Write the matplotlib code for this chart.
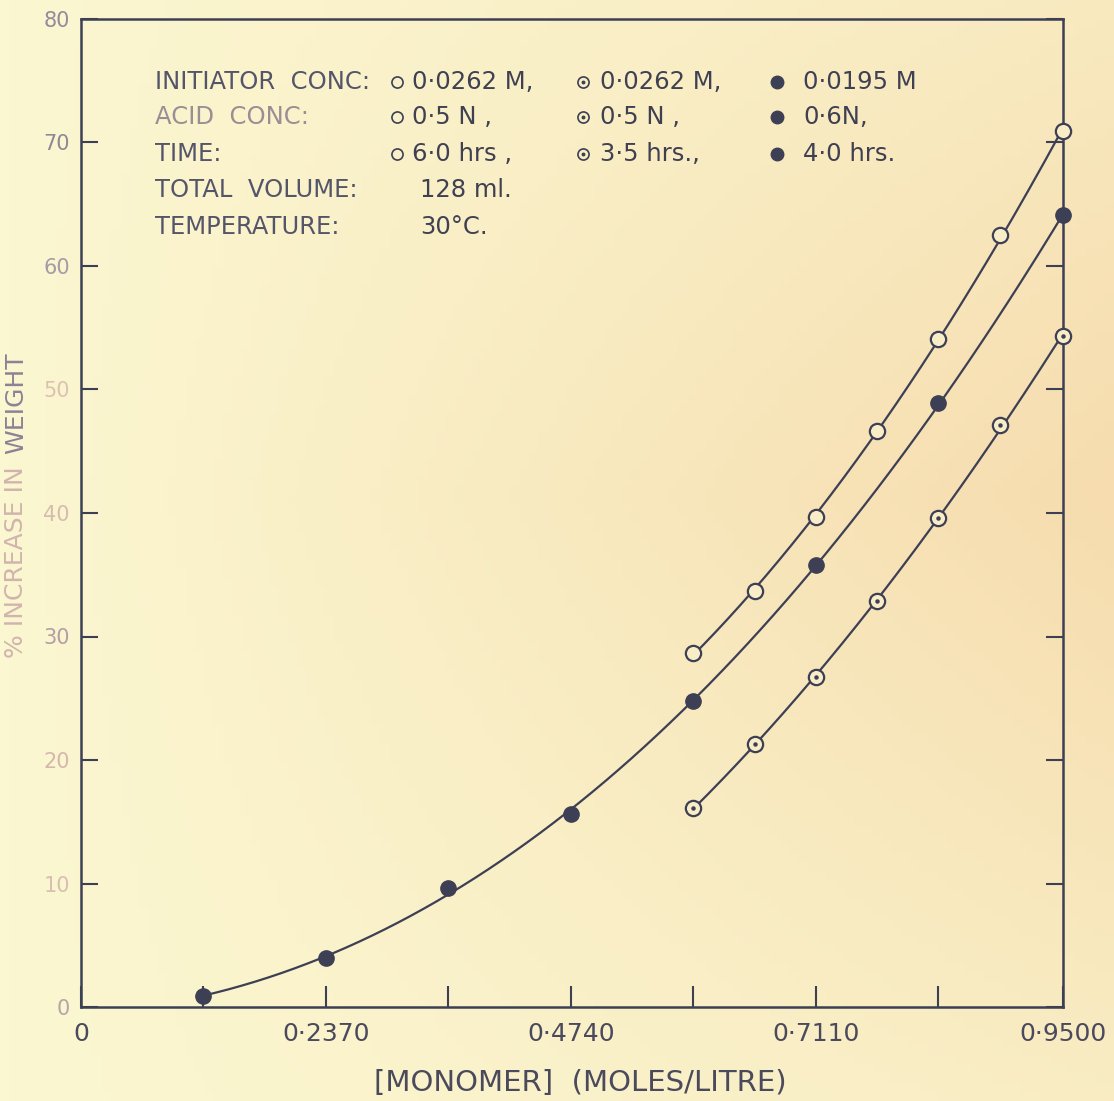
import numpy as np
import matplotlib.pyplot as plt

# monomer concentration (moles/litre) and % increase in weight
monomer_full = [0.1185, 0.2370, 0.3555, 0.4740, 0.5925, 0.7110, 0.8295, 0.9500]
weight_filled = [0.9, 4.0, 9.6, 15.6, 24.8, 35.8, 48.9, 64.1]

monomer_part = [0.5925, 0.6518, 0.7110, 0.7703, 0.8295, 0.8888, 0.9500]
weight_open = [28.7, 33.7, 39.7, 46.6, 54.1, 62.5, 70.9]
weight_dotted = [16.1, 21.3, 26.7, 32.9, 39.6, 47.1, 54.3]

x_major = [0, 0.2370, 0.4740, 0.7110, 0.9500]
x_major_labels = ['0', '0·2370', '0·4740', '0·7110', '0·9500']
x_minor = [0.1185, 0.3555, 0.5925, 0.8295]
y_ticks = [0, 10, 20, 30, 40, 50, 60, 70, 80]

ink = '#3d3f55'
paper = '#f8edc6'
W, H = 1114, 1101


def fx(px):
    return px / W


def fy(py):
    return 1 - py / H


fig = plt.figure(figsize=(W / 100, H / 100), dpi=100)

# paper background with a slight warm tint towards the right
bg = fig.add_axes([0, 0, 1, 1], zorder=0)
bg.axis('off')
yy, xx = np.mgrid[0:1:120j, 0:1:120j]
t = np.clip(xx * (1 - np.abs(yy - 0.45) * 1.1), 0, 1)[..., None]
c0 = np.array([251, 247, 209]) / 255
c1 = np.array([246, 220, 174]) / 255
bg.imshow(c0 * (1 - t) + c1 * t, extent=[0, 1, 0, 1], aspect='auto', origin='upper')
bg.set_xlim(0, 1)
bg.set_ylim(0, 1)

ax = fig.add_axes([fx(81), fy(1007), fx(1063 - 81), (1007 - 19) / H], zorder=1)
ax.patch.set_alpha(0)
ax.set_xlim(0, 0.95)
ax.set_ylim(0, 80)
for s in ax.spines.values():
    s.set_color(ink)
    s.set_linewidth(1.8)


def smooth(x, y, deg):
    coeffs = np.polyfit(x, y, deg)
    xs = np.linspace(x[0], x[-1], 200)
    ax.plot(xs, np.polyval(coeffs, xs), color=ink, lw=1.6, zorder=2, clip_on=False)


smooth(monomer_full, weight_filled, 3)
smooth(monomer_part, weight_open, 2)
smooth(monomer_part, weight_dotted, 2)

ax.plot(monomer_full, weight_filled, 'o', ms=11, mfc=ink, mec=ink, zorder=3, clip_on=False)
ax.plot(monomer_part, weight_open, 'o', ms=11, mfc=paper, mec=ink, mew=1.6, zorder=3, clip_on=False)
ax.plot(monomer_part, weight_dotted, 'o', ms=11, mfc=paper, mec=ink, mew=1.6, zorder=3, clip_on=False)
ax.plot(monomer_part, weight_dotted, 'o', ms=2.2, color=ink, zorder=4, clip_on=False)

# ticks
ax.set_xticks(x_major)
ax.set_xticklabels(x_major_labels)
ax.set_xticks(x_minor, minor=True)
ax.tick_params(axis='x', which='both', direction='in', length=15, width=1.5,
               colors=ink, labelsize=18, pad=11)
ax.set_yticks(y_ticks)
ax.set_yticklabels([str(v) for v in y_ticks])
ax.tick_params(axis='y', direction='in', length=12, width=1.5, colors=ink,
               right=True, labelsize=15, pad=8)
y_label_colors = ['#b8a4a8', '#d9bfb2', '#d4b8ae', '#b39ea6', '#d6bcb0',
                  '#dcc2b4', '#a89aa6', '#8f8698', '#948a9c']
for lab, c in zip(ax.get_yticklabels(), y_label_colors):
    lab.set_color(c)
for lab in ax.get_xticklabels():
    lab.set_color('#4a4a5c')

# y axis title, the first part faded on the original
fig.text(fx(16), fy(658), '% INCREASE IN', rotation=90, ha='center', va='bottom',
         fontsize=18, color='#d2b4ae')
fig.text(fx(16), fy(352), 'WEIGHT', rotation=90, ha='center', va='top',
         fontsize=18, color='#8c8296')
fig.text(fx(580), fy(1083), '[MONOMER]  (MOLES/LITRE)', ha='center', va='center',
         fontsize=21, color='#4a4a5c')

# annotation block
rows = [82, 117, 154, 190, 227]
labels = ['INITIATOR  CONC:', 'ACID  CONC:', 'TIME:', 'TOTAL  VOLUME:', 'TEMPERATURE:']
label_colors = ['#55556a', '#9a8e94', '#55556a', '#55556a', '#55556a']
for r, lab, c in zip(rows, labels, label_colors):
    fig.text(fx(155), fy(r), lab, ha='left', va='center', fontsize=17.5, color=c)

col_marker_x = [397, 583, 777]
col_text_x = [412, 600, 803]
col_text = [['0·0262 M,', '0·0262 M,', '0·0195 M'],
            ['0·5 N ,', '0·5 N ,', '0·6N,'],
            ['6·0 hrs ,', '3·5 hrs.,', '4·0 hrs.']]
for i, r in enumerate(rows[:3]):
    for j in range(3):
        mx, my = fx(col_marker_x[j]), fy(r)
        if j == 2:
            ax.plot([mx], [my], 'o', ms=9, mfc=ink, mec=ink, transform=fig.transFigure, clip_on=False)
        else:
            ax.plot([mx], [my], 'o', ms=8, mfc='none', mec=ink, mew=1.2,
                    transform=fig.transFigure, clip_on=False)
            if j == 1:
                ax.plot([mx], [my], 'o', ms=1.8, color=ink, transform=fig.transFigure, clip_on=False)
        fig.text(fx(col_text_x[j]), fy(r), col_text[i][j], ha='left', va='center',
                 fontsize=17.5, color='#3f4052')

fig.text(fx(420), fy(190), '128 ml.', ha='left', va='center', fontsize=17.5, color='#3f4052')
fig.text(fx(420), fy(227), '30°C.', ha='left', va='center', fontsize=17.5, color='#3f4052')

fig.savefig('out.png', dpi=100)
